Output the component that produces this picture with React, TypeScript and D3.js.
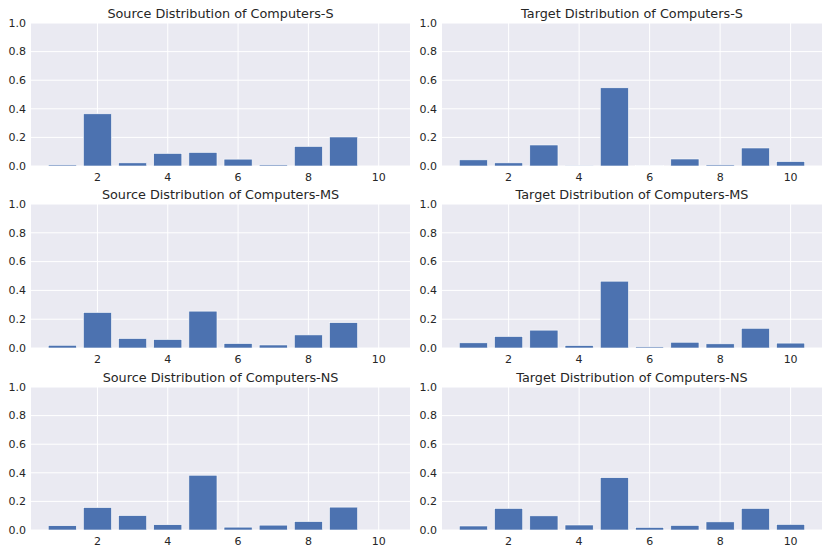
import { useEffect, useRef } from "react";
import * as d3 from "d3";

const W = 830;
const H = 554;

const bins = [1, 2, 3, 4, 5, 6, 7, 8, 9, 10];
const xTicks = [2, 4, 6, 8, 10];
const yTicks = [0, 0.2, 0.4, 0.6, 0.8, 1.0];

const titles = [
  "Source Distribution of Computers-S",
  "Target Distribution of Computers-S",
  "Source Distribution of Computers-MS",
  "Target Distribution of Computers-MS",
  "Source Distribution of Computers-NS",
  "Target Distribution of Computers-NS",
];

const sourceS = [0.008, 0.365, 0.022, 0.088, 0.095, 0.048, 0.008, 0.137, 0.203, 0];
const targetS = [0.043, 0.022, 0.147, 0.002, 0.547, 0.003, 0.049, 0.008, 0.126, 0.031];
const sourceMS = [0.019, 0.247, 0.066, 0.059, 0.256, 0.031, 0.021, 0.091, 0.176, 0];
const targetMS = [0.036, 0.08, 0.124, 0.017, 0.464, 0.008, 0.04, 0.029, 0.137, 0.034];
const sourceNS = [0.03, 0.157, 0.101, 0.037, 0.383, 0.02, 0.034, 0.059, 0.16, 0];
const targetNS = [0.028, 0.151, 0.099, 0.035, 0.366, 0.018, 0.032, 0.057, 0.151, 0.039];

const series = [sourceS, targetS, sourceMS, targetMS, sourceNS, targetNS];

// panel frames: [left, right] and [top, bottom]
const cols = [
  [31, 410],
  [442, 822],
];
const rows = [
  [23, 166],
  [204, 348],
  [387, 530],
];

const BG = "#EAEAF2";
const BAR = "#4C72B0";
const TEXT = "#262626";
const FONT = "DejaVu Sans, sans-serif";

export default function App() {
  const ref = useRef<SVGSVGElement | null>(null);

  useEffect(() => {
    const svg = d3.select(ref.current);
    svg.selectAll("*").remove();

    series.forEach((vals, i) => {
      const [x0, x1] = cols[i % 2];
      const [y0, y1] = rows[Math.floor(i / 2)];
      const x = d3.scaleLinear().domain([0.11, 10.89]).range([x0, x1]);
      const y = d3.scaleLinear().domain([0, 1]).range([y1, y0]);

      const g = svg.append("g");
      g.append("rect")
        .attr("x", x0)
        .attr("y", y0)
        .attr("width", x1 - x0)
        .attr("height", y1 - y0)
        .attr("fill", BG);

      g.selectAll("line.gx")
        .data(xTicks)
        .join("line")
        .attr("x1", (d) => x(d))
        .attr("x2", (d) => x(d))
        .attr("y1", y0)
        .attr("y2", y1)
        .attr("stroke", "#fff")
        .attr("stroke-width", 1);

      g.selectAll("line.gy")
        .data(yTicks)
        .join("line")
        .attr("x1", x0)
        .attr("x2", x1)
        .attr("y1", (d) => y(d))
        .attr("y2", (d) => y(d))
        .attr("stroke", "#fff")
        .attr("stroke-width", 1);

      g.selectAll("rect.bar")
        .data(vals)
        .join("rect")
        .attr("x", (_, j) => x(bins[j] - 0.4))
        .attr("width", x(0.8) - x(0))
        .attr("y", (d) => y(d))
        .attr("height", (d) => y(0) - y(d))
        .attr("fill", BAR)
        .attr("stroke", "#fff")
        .attr("stroke-width", 0.6);

      g.selectAll("text.yt")
        .data(yTicks)
        .join("text")
        .attr("x", x0 - 5)
        .attr("y", (d) => y(d))
        .attr("dy", "0.35em")
        .attr("text-anchor", "end")
        .attr("font-family", FONT)
        .attr("font-size", 11)
        .attr("fill", TEXT)
        .text((d) => d.toFixed(1));

      g.selectAll("text.xt")
        .data(xTicks)
        .join("text")
        .attr("x", (d) => x(d))
        .attr("y", y1 + 15)
        .attr("text-anchor", "middle")
        .attr("font-family", FONT)
        .attr("font-size", 11)
        .attr("fill", TEXT)
        .text((d) => d);

      g.append("text")
        .attr("x", (x0 + x1) / 2)
        .attr("y", y0 - 5)
        .attr("text-anchor", "middle")
        .attr("font-family", FONT)
        .attr("font-size", 12.8)
        .attr("fill", TEXT)
        .text(titles[i]);
    });
  }, []);

  return (
    <svg
      ref={ref}
      width={W}
      height={H}
      style={{ position: "absolute", left: 0, top: 0, background: "#fff" }}
    />
  );
}
